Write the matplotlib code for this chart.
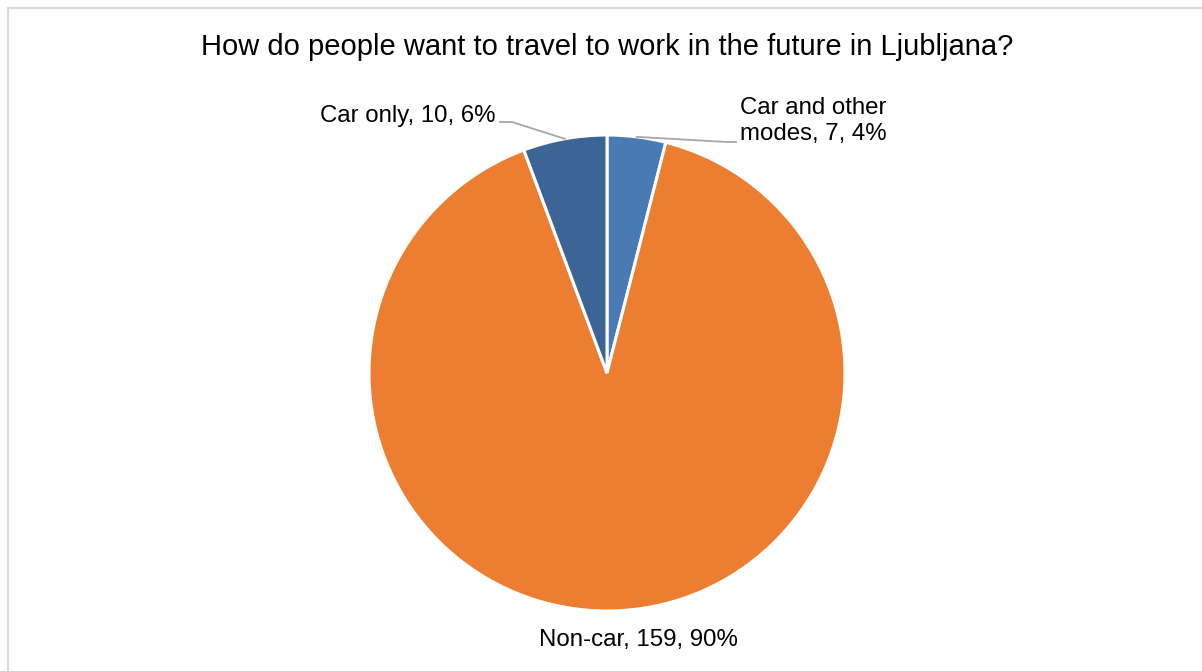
import matplotlib.pyplot as plt
import numpy as np
from matplotlib.patches import Rectangle

plt.rcParams['font.family'] = ['Liberation Sans', 'DejaVu Sans']

title = "How do people want to travel to work in the future in Ljubljana?"
categories = ["Car and other modes", "Non-car", "Car only"]
label_names = ["Car and other\nmodes", "Non-car", "Car only"]
counts = [7, 159, 10]
colors = ["#4a7ab4", "#ed7d31", "#3c6494"]

W, H = 1202, 671
fig = plt.figure(figsize=(W / 100, H / 100), dpi=100)
ax = fig.add_axes([0, 0, 1, 1])

cx, cy, r = 607, H - 373, 238
wedges, _ = ax.pie(counts, startangle=90, counterclock=False, colors=colors,
                   center=(cx, cy), radius=r, frame=True,
                   wedgeprops=dict(edgecolor='white', linewidth=2.2))
ax.set_xlim(0, W)
ax.set_ylim(0, H)
ax.axis('off')

# chart area border (only top/left visible in the crop)
ax.add_patch(Rectangle((7.5, -20), W + 40, H - 7.5 + 20, fill=False,
                       edgecolor='#d9d9d9', linewidth=1.5))

total = sum(counts)
texts = [f"{n}, {v}, {round(v / total * 100)}%" for n, v in zip(label_names, counts)]


def edge_point(w):
    mid = np.deg2rad((w.theta1 + w.theta2) / 2)
    return cx + r * np.cos(mid), cy + r * np.sin(mid)


fs = 17.3
line_kw = dict(color='#a6a6a6', linewidth=1.3)

# Car and other modes
ex, ey = edge_point(wedges[0])
ax.plot([ex, 727, 736], [ey, H - 142, H - 142], **line_kw)
ax.text(740, H - 121, texts[0], ha='left', va='center', fontsize=fs, linespacing=1.25)

# Non-car
ax.text(638, H - 640, texts[1], ha='center', va='center', fontsize=fs)

# Car only
ex, ey = edge_point(wedges[2])
ax.plot([ex, 512, 500], [ey, H - 122, H - 122], **line_kw)
ax.text(495, H - 116, texts[2], ha='right', va='center', fontsize=fs)

ax.text(W / 2 + 6, H - 47, title, ha='center', va='center', fontsize=21)

fig.savefig('out.png', dpi=100, facecolor='white')
